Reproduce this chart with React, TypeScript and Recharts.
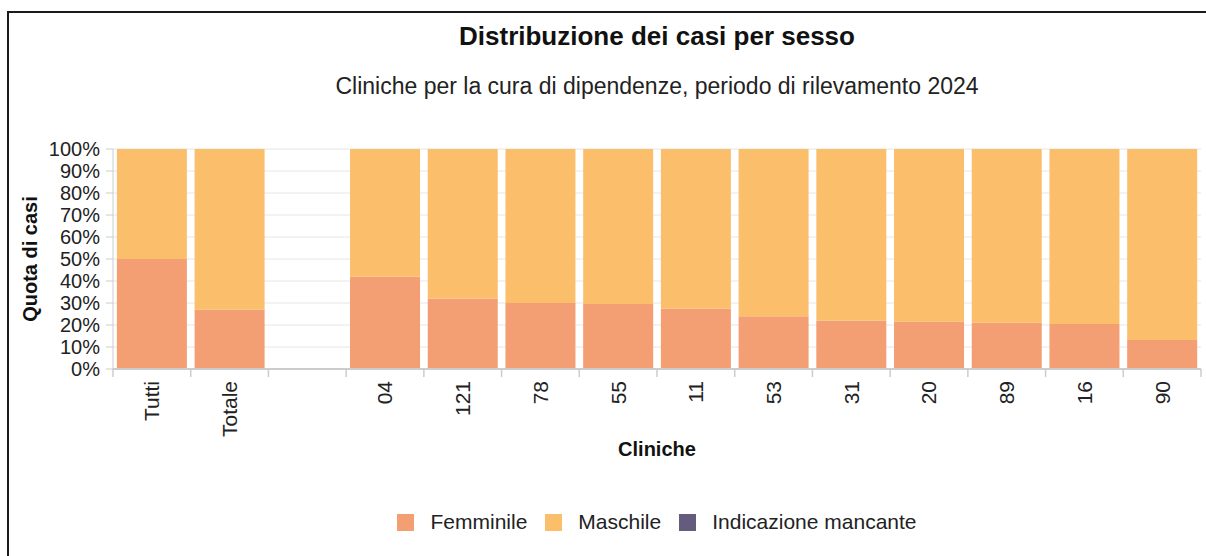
import { BarChart, Bar, XAxis, YAxis, CartesianGrid, Label } from "recharts";

const cliniche = ["Tutti", "Totale", "", "04", "121", "78", "55", "11", "53", "31", "20", "89", "16", "90"];
const femminile = [50, 27, 0, 42, 32, 30, 29.5, 27.5, 24, 22, 21.5, 21, 20.5, 13.2];
const maschile = [50, 73, 0, 58, 68, 70, 70.5, 72.5, 76, 78, 78.5, 79, 79.5, 86.8];
const mancante = [0, 0, 0, 0, 0, 0, 0, 0, 0, 0, 0, 0, 0, 0];
const yTicks = [0, 10, 20, 30, 40, 50, 60, 70, 80, 90, 100];

const series = [
  { key: "femminile", name: "Femminile", color: "#f49e73" },
  { key: "maschile", name: "Maschile", color: "#fbbf6b" },
  { key: "mancante", name: "Indicazione mancante", color: "#655b7d" },
];

const data = cliniche.map((c, i) => ({
  clinica: c,
  femminile: femminile[i],
  maschile: maschile[i],
  mancante: mancante[i],
}));

const W = 1206;
const H = 556;
const margin = { top: 149, right: 5, bottom: 97, left: 13 };
const yAxisW = 100;
const plotW = W - margin.left - margin.right - yAxisW;
const band = plotW / cliniche.length;
const FONT = "'Liberation Sans', Arial, sans-serif";

const XTick = ({ x, y, payload, index }: any) => (
  <g>
    <line x1={x - band / 2} x2={x - band / 2} y1={y - 8} y2={y} stroke="#ccc" strokeWidth={1.5} />
    {index === cliniche.length - 1 && (
      <line x1={x + band / 2} x2={x + band / 2} y1={y - 8} y2={y} stroke="#ccc" strokeWidth={1.5} />
    )}
    <text
      transform={`translate(${x},${y + 4}) rotate(-90)`}
      textAnchor="end"
      dy="0.35em"
      fill="#222"
      fontSize={21}
      fontFamily={FONT}
    >
      {payload.value}
    </text>
  </g>
);

export default function App() {
  return (
    <div style={{ position: "absolute", left: 0, top: 0, width: W, height: H, overflow: "hidden", background: "#fff", fontFamily: FONT }}>
      <div style={{ position: "absolute", left: 7, top: 11, width: 1220, height: 580, border: "2px solid #1a1a1a" }} />
      <div style={{ position: "absolute", left: 113, width: plotW, top: 22, textAlign: "center", fontSize: 26, fontWeight: "bold", lineHeight: "28px", color: "#111" }}>
        Distribuzione dei casi per sesso
      </div>
      <div style={{ position: "absolute", left: 113, width: plotW, top: 73, textAlign: "center", fontSize: 23, lineHeight: "26px", color: "#222" }}>
        Cliniche per la cura di dipendenze, periodo di rilevamento 2024
      </div>
      <div style={{ position: "absolute", left: 0, top: 0 }}>
        <BarChart width={W} height={H} data={data} margin={margin} barCategoryGap="5%">
          <CartesianGrid vertical={false} stroke="#e6e6e6" />
          <XAxis
            dataKey="clinica"
            height={90}
            interval={0}
            tickSize={8}
            tickMargin={0}
            tickLine={false}
            tick={<XTick />}
            stroke="#ccc"
            strokeWidth={2}
          >
            <Label value="Cliniche" position="insideBottom" offset={0} dy={-3} fontSize={20} fontWeight="bold" fill="#111" fontFamily={FONT} />
          </XAxis>
          <YAxis
            width={yAxisW}
            domain={[0, 100]}
            ticks={yTicks}
            interval={0}
            tickFormatter={(v) => `${v}%`}
            tick={{ fill: "#222", fontSize: 20, fontFamily: FONT }}
            tickSize={7}
            tickMargin={6}
            stroke="#ccc"
          >
            <Label value="Quota di casi" angle={-90} position="insideLeft" offset={17} fontSize={20} fontWeight="bold" fill="#111" fontFamily={FONT} style={{ textAnchor: "middle" }} />
          </YAxis>
          {series.map((s) => (
            <Bar key={s.key} dataKey={s.key} name={s.name} stackId="a" fill={s.color} isAnimationActive={false} />
          ))}
        </BarChart>
      </div>
      <div style={{ position: "absolute", left: 113, width: plotW, top: 513, display: "flex", justifyContent: "center", gap: 18, fontSize: 21, lineHeight: "18px", color: "#222" }}>
        {series.map((s) => (
          <div key={s.key} style={{ display: "flex", alignItems: "center" }}>
            <span style={{ display: "inline-block", width: 17, height: 17, background: s.color, marginRight: 16 }} />
            <span>{s.name}</span>
          </div>
        ))}
      </div>
    </div>
  );
}
